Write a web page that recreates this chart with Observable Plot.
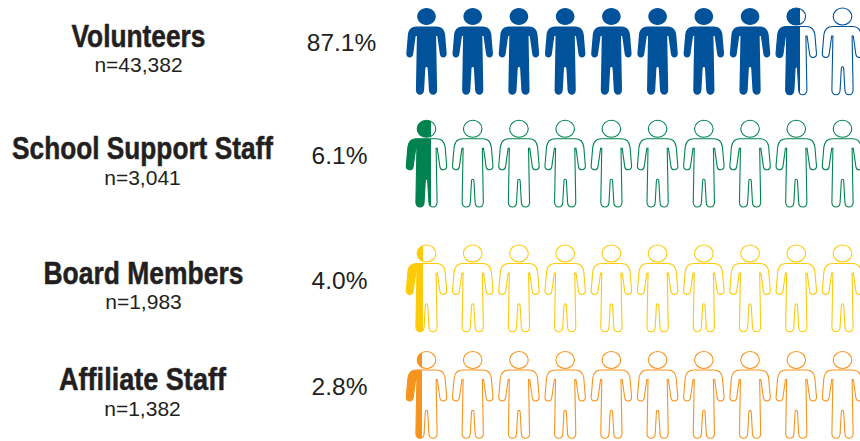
<!DOCTYPE html>
<html><head><meta charset="utf-8">
<style>html,body{margin:0;padding:0;background:#fff}svg{display:block}</style>
<script src="https://cdn.jsdelivr.net/npm/d3@7"></script>
<script src="https://cdn.jsdelivr.net/npm/@observablehq/plot@0.6"></script>
</head><body><script>
const categories = ["Volunteers","School Support Staff","Board Members","Affiliate Staff"];
const percents = ["87.1%","6.1%","4.0%","2.8%"];
const counts = ["n=43,382","n=3,041","n=1,983","n=1,382"];
const wholeFigures = [8,0,0,0];
const partialFill = [0.6,0.61,0.42,0.4];
const rowColors = ["#00529b","#00834e","#fdcb0a","#f7941e"];

// layout
const rowShift = [0,-1.7,9,1.5];
const titleCenter = [138,142,143,142];
const titleWidth = [134,261,200,167];
const pctCenter = [341,339,339,339];
const pctShift = [-8,-8,-7,-7.5];
const ink = "#231f20";
const titleFont = "bold 32px 'Liberation Sans'";

const person = {draw(c){
  const hx=9.3, hy=8.5, hc=-35, k=0.5523;
  c.moveTo(hx,hc);
  c.bezierCurveTo(hx,hc+k*hy,k*hx,hc+hy,0,hc+hy);
  c.bezierCurveTo(-k*hx,hc+hy,-hx,hc+k*hy,-hx,hc);
  c.bezierCurveTo(-hx,hc-k*hy,-k*hx,hc-hy,0,hc-hy);
  c.bezierCurveTo(k*hx,hc-hy,hx,hc-k*hy,hx,hc);
  c.closePath();
  const s=[
    ["L",10,-25],
    ["C",16,-25,18,-21,18.6,-17],
    ["L",20.2,2],
    ["C",20.6,6.5,14.2,7.5,13.4,3],
    ["L",10.8,-15.5],
    ["L",9.6,-15.5],
    ["L",10.6,38.5],
    ["C",10.8,44.8,2.6,44.8,2.4,38.5],
    ["L",1.2,17],
    ["C",1.1,15.6,0.4,15.4,0,15.4]
  ];
  const pts=[[0,-25]];
  for(const p of s) pts.push(p.slice(-2));
  c.moveTo(0,-25);
  for(const p of s){ if(p[0]==="L") c.lineTo(p[1],p[2]); else c.bezierCurveTo(p[1],p[2],p[3],p[4],p[5],p[6]); }
  for(let i=s.length-1;i>=0;i--){
    const p=s[i], end=pts[i];
    if(p[0]==="L") c.lineTo(-end[0],end[1]);
    else c.bezierCurveTo(-p[3],p[4],-p[1],p[2],-end[0],end[1]);
  }
  c.closePath();
}};

const persons = categories.flatMap((cat,r)=>d3.range(10).map(i=>({
  cat, i,
  fill: i<wholeFigures[r] ? rowColors[r] : i===wholeFigures[r] ? `url(#part${r})` : "#fff",
  stroke: i<wholeFigures[r] ? "none" : rowColors[r]
})));

const defs = () => {
  const d = d3.create("svg:defs");
  categories.forEach((_,r)=>{
    const g = d.append("linearGradient").attr("id",`part${r}`).attr("x1",0).attr("x2",1).attr("y1",0).attr("y2",0);
    [[partialFill[r],rowColors[r]],[partialFill[r],"#fff"]].forEach(([o,c])=>g.append("stop").attr("offset",o).attr("stop-color",c));
  });
  return d.node();
};

const ctx = document.createElement("canvas").getContext("2d");
const squeeze = (label, w) => (index, scales, values, dims, context, next) => {
  const g = next(index, scales, values, dims, context);
  ctx.font = titleFont;
  const sx = w / ctx.measureText(label).width;
  d3.select(g).selectAll("text").attr("transform", function () {
    return `${this.getAttribute("transform") || ""} scale(${sx},1)`;
  });
  return g;
};

const chart = Plot.plot({
  width:860, height:441, margin:0,
  x:{domain:[0,9],range:[426,842],axis:null},
  y:{type:"point",domain:categories,range:[50,394],padding:0,axis:null},
  color:{type:"identity"},
  marks:[
    defs,
    ...categories.flatMap((cat,r)=>[
      Plot.dot(persons.filter(d=>d.cat===cat),{x:"i",y:"cat",r:1,symbol:person,fill:"fill",stroke:"stroke",strokeWidth:1.1,dy:rowShift[r]}),
      Plot.text([cat],{y:d=>d,text:d=>d,frameAnchor:"left",textAnchor:"middle",dx:titleCenter[r],dy:rowShift[r]-15,fontFamily:"'Liberation Sans',sans-serif",fontWeight:"bold",fontSize:32,fill:ink,stroke:ink,strokeWidth:0.5,render:squeeze(cat,titleWidth[r])}),
      Plot.text([cat],{y:d=>d,text:()=>counts[r],frameAnchor:"left",textAnchor:"middle",dx:titleCenter[r],dy:rowShift[r]+14,fontFamily:"'Liberation Sans',sans-serif",fontSize:21,fill:ink}),
      Plot.text([cat],{y:d=>d,text:()=>percents[r],frameAnchor:"left",textAnchor:"middle",dx:pctCenter[r],dy:rowShift[r]+pctShift[r],fontFamily:"'Liberation Sans',sans-serif",fontSize:24.5,fill:ink})
    ])
  ]
});
document.body.append(chart);
</script></body></html>
